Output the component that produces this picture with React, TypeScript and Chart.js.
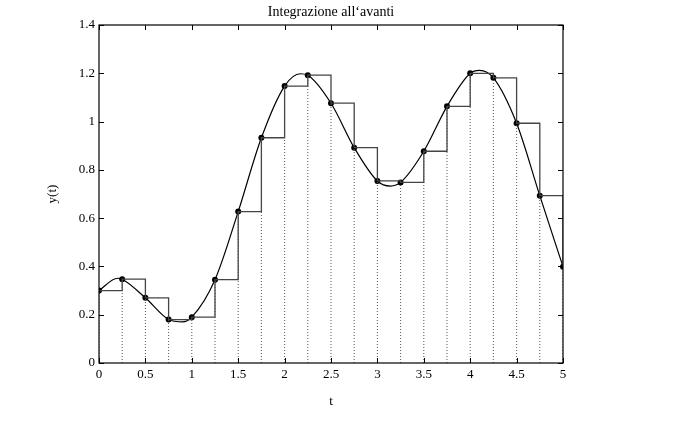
import React, { useEffect, useRef } from "react";
import { Chart, registerables } from "chart.js";

Chart.register(...registerables);

// sample instants and sampled values y(t_k)
const tValues = [0, 0.25, 0.5, 0.75, 1, 1.25, 1.5, 1.75, 2, 2.25, 2.5, 2.75, 3, 3.25, 3.5, 3.75, 4, 4.25, 4.5, 4.75, 5];
const yValues = [0.3, 0.347, 0.27, 0.18, 0.19, 0.345, 0.627, 0.933, 1.147, 1.192, 1.076, 0.892, 0.754, 0.748, 0.877, 1.063, 1.2, 1.181, 0.993, 0.693, 0.399];

// extra readings of the continuous curve at its turning points
const curveExtraT = [0.2, 0.9, 2.17, 3.14, 4.1];
const curveExtraY = [0.351, 0.17, 1.198, 0.733, 1.212];

const xTickValues = [0, 0.5, 1, 1.5, 2, 2.5, 3, 3.5, 4, 4.5, 5];
const yTickValues = [0, 0.2, 0.4, 0.6, 0.8, 1, 1.2, 1.4];

const titleText = "Integrazione all\u2018avanti";
const xLabel = "t";
const yLabel = "y(t)";

const FONT = "'Liberation Serif', 'DejaVu Serif', serif";

export default function App() {
  const ref = useRef<HTMLCanvasElement | null>(null);

  useEffect(() => {
    if (!ref.current) return;

    const samples = tValues.map((t, i) => ({ x: t, y: yValues[i] }));
    const curve = samples
      .concat(curveExtraT.map((t, i) => ({ x: t, y: curveExtraY[i] })))
      .sort((a, b) => a.x - b.x);
    const stems: { x: number; y: number | null }[] = [];
    tValues.forEach((t, i) => {
      stems.push({ x: t, y: 0 });
      stems.push({ x: t, y: yValues[i] });
      stems.push({ x: t, y: null });
    });

    const decor = {
      id: "decor",
      afterDatasetsDraw(chart: any) {
        const ctx = chart.ctx;
        const a = chart.chartArea;
        const xs = chart.scales.x;
        const ys = chart.scales.y;
        ctx.save();
        ctx.strokeStyle = "#000";
        ctx.lineWidth = 1;
        // inward ticks
        ctx.beginPath();
        xTickValues.forEach((v) => {
          const px = Math.round(xs.getPixelForValue(v)) + 0.5;
          ctx.moveTo(px, a.bottom);
          ctx.lineTo(px, a.bottom - 5);
          ctx.moveTo(px, a.top);
          ctx.lineTo(px, a.top + 5);
        });
        yTickValues.forEach((v) => {
          const py = Math.round(ys.getPixelForValue(v)) + 0.5;
          ctx.moveTo(a.left, py);
          ctx.lineTo(a.left + 5, py);
          ctx.moveTo(a.right, py);
          ctx.lineTo(a.right - 5, py);
        });
        ctx.stroke();
        // frame
        ctx.lineWidth = 1.2;
        ctx.strokeRect(a.left, a.top, a.right - a.left, a.bottom - a.top);
        // texts
        ctx.fillStyle = "#000";
        ctx.textAlign = "center";
        ctx.textBaseline = "middle";
        const cx = (a.left + a.right) / 2;
        ctx.font = `14px ${FONT}`;
        ctx.fillText(titleText, cx, 12);
        ctx.font = `13px ${FONT}`;
        ctx.fillText(xLabel, cx, 402);
        ctx.translate(53, (a.top + a.bottom) / 2);
        ctx.rotate(-Math.PI / 2);
        ctx.fillText(yLabel, 0, 0);
        ctx.restore();
      },
    };

    const fmt = (v: any) => String(Number(Number(v).toFixed(2)));

    const chart = new Chart(ref.current, {
      type: "line",
      data: {
        datasets: [
          {
            label: "stems",
            data: stems as any,
            borderColor: "#555",
            borderWidth: 1,
            borderDash: [1, 2],
            pointRadius: 0,
            spanGaps: false,
            tension: 0,
          },
          {
            label: "steps",
            data: samples,
            borderColor: "#444",
            borderWidth: 1.3,
            stepped: "before",
            pointRadius: 0,
          },
          {
            label: "curve",
            data: curve,
            borderColor: "#000",
            borderWidth: 1.2,
            cubicInterpolationMode: "monotone",
            pointRadius: 0,
          },
          {
            label: "points",
            data: samples,
            showLine: false,
            pointRadius: 3,
            pointBackgroundColor: "#000",
            pointBorderColor: "#000",
            pointBorderWidth: 0,
          },
        ],
      },
      options: {
        animation: false,
        responsive: false,
        devicePixelRatio: 1,
        layout: { padding: { left: 0, right: 117, top: 25, bottom: 0 } },
        plugins: {
          legend: { display: false },
          title: { display: false },
          tooltip: { enabled: false },
        },
        scales: {
          x: {
            type: "linear",
            min: 0,
            max: 5,
            afterFit: (s: any) => {
              s.height = 67;
            },
            afterBuildTicks: (s: any) => {
              s.ticks = xTickValues.map((v) => ({ value: v }));
            },
            grid: { display: false, drawTicks: false },
            border: { display: false },
            ticks: {
              padding: 4,
              color: "#000",
              font: { family: FONT, size: 13 },
              maxRotation: 0,
              autoSkip: false,
              callback: fmt,
            },
          },
          y: {
            type: "linear",
            min: 0,
            max: 1.4,
            afterFit: (s: any) => {
              s.width = 99;
            },
            afterBuildTicks: (s: any) => {
              s.ticks = yTickValues.map((v) => ({ value: v }));
            },
            grid: { display: false, drawTicks: false },
            border: { display: false },
            ticks: {
              padding: 4,
              color: "#000",
              font: { family: FONT, size: 13 },
              autoSkip: false,
              callback: fmt,
            },
          },
        },
      },
      plugins: [decor],
    });

    return () => chart.destroy();
  }, []);

  return (
    <div style={{ position: "fixed", left: 0, top: 0, width: 680, height: 430, background: "#fff" }}>
      <canvas ref={ref} width={680} height={430} style={{ width: 680, height: 430 }} />
    </div>
  );
}
